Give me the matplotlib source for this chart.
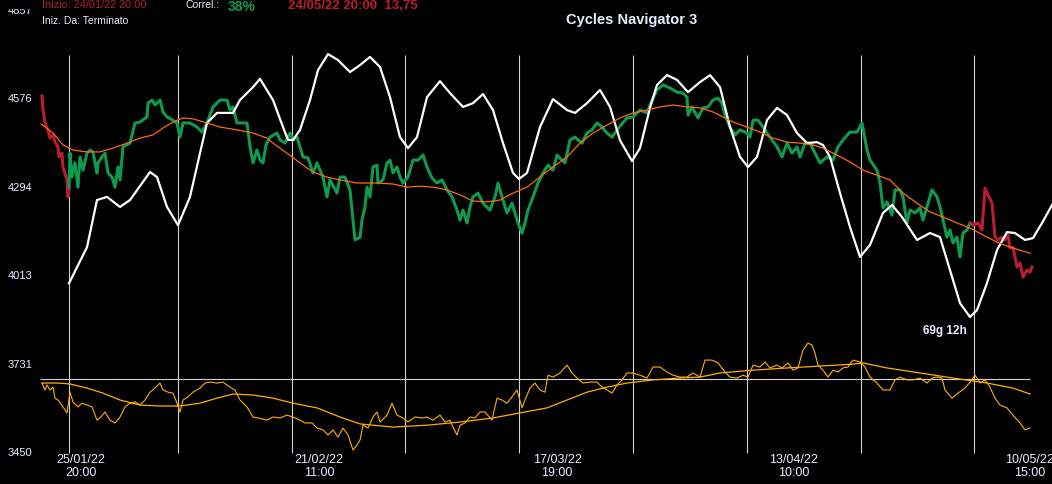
import numpy as np
import matplotlib
matplotlib.use('Agg')
import matplotlib.pyplot as plt
from matplotlib.patches import Rectangle

plt.rcParams['font.family'] = ['Liberation Sans', 'DejaVu Sans']

# price (close), by bar position
price_bar = [42, 43, 45, 48, 50, 53, 55, 58, 59, 62, 63, 67, 68, 69, 70, 72, 75, 78, 80, 83, 87, 90, 93, 97, 98,
             102, 105, 108, 112, 115, 118, 120, 123, 130, 135, 140, 147, 148, 152, 155, 160, 163, 167, 173, 177,
             180, 183, 190, 197, 202, 207, 213, 220, 227, 230, 233, 237, 240, 247, 250, 253, 257, 260, 263, 266,
             270, 277, 280, 285, 290, 293, 297, 300, 303, 308, 313, 317, 320, 323, 327, 330, 337, 340, 345, 350,
             353, 355, 360, 362, 365, 367, 370, 373, 377, 378, 383, 387, 390, 393, 397, 400, 403, 408, 413, 418,
             423, 427, 432, 437, 442, 447, 452, 457, 460, 463, 467, 470, 473, 478, 483, 490, 495, 498, 502, 507,
             512, 515, 518, 522, 525, 528, 533, 538, 543, 548, 553, 557, 562, 565, 570, 575, 578, 582, 587, 592,
             597, 602, 607, 612, 617, 620, 627, 633, 640, 647, 652, 657, 663, 670, 677, 683, 687, 688, 692, 698,
             703, 708, 713, 718, 722, 725, 730, 735, 740, 747, 750, 753, 758, 763, 767, 772, 777, 782, 787, 792,
             797, 800, 805, 810, 815, 820, 827, 833, 838, 843, 850, 857, 862, 867, 870, 877, 880, 883, 887, 892,
             895, 900, 903, 907, 910, 915, 920, 923, 928, 932, 937, 940, 943, 947, 950, 953, 957, 960, 963, 967,
             970, 973, 978, 982, 985, 988, 992, 995, 998, 1002, 1005, 1008, 1010, 1013, 1017, 1020, 1023, 1027,
             1030, 1032]
price = [4586, 4541, 4500, 4478, 4452, 4462, 4439, 4424, 4392, 4404, 4360, 4319, 4265, 4296, 4404, 4328, 4373,
         4296, 4392, 4350, 4404, 4414, 4408, 4341, 4373, 4392, 4404, 4341, 4328, 4296, 4360, 4319, 4424, 4436,
         4500, 4503, 4519, 4563, 4573, 4557, 4573, 4535, 4519, 4509, 4500, 4455, 4500, 4500, 4487, 4471, 4500,
         4551, 4573, 4573, 4541, 4551, 4500, 4500, 4500, 4424, 4373, 4414, 4382, 4373, 4430, 4455, 4468, 4446,
         4436, 4468, 4446, 4455, 4424, 4392, 4389, 4341, 4373, 4350, 4328, 4265, 4319, 4277, 4328, 4328, 4287,
         4191, 4128, 4137, 4191, 4233, 4296, 4265, 4360, 4366, 4309, 4319, 4373, 4382, 4341, 4360, 4328, 4309,
         4328, 4382, 4382, 4398, 4360, 4325, 4309, 4319, 4287, 4265, 4223, 4191, 4223, 4182, 4233, 4265, 4277,
         4245, 4223, 4265, 4309, 4265, 4214, 4245, 4214, 4182, 4150, 4182, 4223, 4265, 4309, 4341, 4366, 4350,
         4398, 4382, 4373, 4446, 4455, 4446, 4436, 4468, 4478, 4500, 4487, 4468, 4455, 4478, 4490, 4516, 4519,
         4541, 4532, 4573, 4605, 4621, 4611, 4598, 4595, 4582, 4525, 4551, 4516, 4548, 4551, 4573, 4579, 4563,
         4525, 4487, 4462, 4478, 4468, 4455, 4509, 4509, 4487, 4468, 4446, 4424, 4392, 4436, 4404, 4424, 4392,
         4436, 4436, 4404, 4373, 4392, 4382, 4424, 4446, 4471, 4471, 4500, 4414, 4382, 4350, 4309, 4230, 4249,
         4207, 4287, 4287, 4265, 4182, 4223, 4214, 4230, 4191, 4245, 4287, 4265, 4233, 4191, 4137, 4160, 4118,
         4137, 4074, 4150, 4160, 4182, 4175, 4182, 4160, 4293, 4271, 4245, 4137, 4128, 4137, 4128, 4144, 4102,
         4105, 4042, 4055, 4010, 4032, 4026, 4042]

# moving average of price
ma_bar = [41, 53, 63, 73, 87, 100, 113, 127, 140, 153, 163, 173, 183, 193, 207, 220, 237, 253, 267, 273, 287,
          300, 313, 327, 340, 357, 377, 393, 407, 420, 433, 447, 460, 473, 487, 500, 513, 527, 540, 553, 567,
          580, 593, 607, 620, 633, 647, 660, 673, 687, 700, 713, 723, 733, 747, 760, 773, 787, 800, 813, 823,
          837, 850, 863, 877, 890, 903, 917, 930, 943, 957, 970, 983, 997, 1010, 1030]
ma = [4497, 4468, 4430, 4414, 4408, 4408, 4420, 4436, 4452, 4462, 4484, 4503, 4516, 4513, 4500, 4487, 4478,
      4468, 4452, 4436, 4404, 4373, 4344, 4328, 4319, 4309, 4309, 4306, 4296, 4299, 4296, 4287, 4271, 4252,
      4249, 4255, 4277, 4296, 4328, 4360, 4392, 4436, 4468, 4493, 4516, 4532, 4541, 4551, 4557, 4551, 4548,
      4535, 4519, 4503, 4487, 4471, 4452, 4439, 4436, 4430, 4420, 4398, 4376, 4350, 4334, 4319, 4277, 4245,
      4217, 4201, 4182, 4166, 4144, 4121, 4105, 4086]

# cycle composite (white)
cycle_bar = [69, 87, 97, 107, 120, 130, 150, 157, 167, 178, 190, 200, 207, 217, 227, 233, 240, 253, 260, 273,
             283, 288, 293, 300, 310, 318, 328, 338, 350, 360, 370, 380, 390, 400, 408, 417, 427, 440, 450, 463,
             473, 483, 493, 503, 513, 519, 527, 540, 553, 567, 575, 587, 600, 610, 620, 632, 640, 650, 657, 667,
             677, 688, 700, 710, 720, 730, 740, 748, 757, 767, 777, 787, 797, 807, 817, 823, 830, 840, 850, 860,
             870, 883, 892, 902, 917, 930, 940, 950, 960, 970, 977, 987, 997, 1007, 1015, 1025, 1033, 1042, 1052]
cycle = [3990, 4105, 4255, 4265, 4233, 4255, 4344, 4328, 4233, 4175, 4265, 4404, 4500, 4532, 4532, 4532, 4573,
         4614, 4640, 4573, 4487, 4446, 4446, 4478, 4573, 4668, 4719, 4700, 4662, 4684, 4710, 4678, 4582, 4455,
         4420, 4455, 4582, 4633, 4595, 4551, 4563, 4592, 4541, 4436, 4341, 4322, 4341, 4487, 4576, 4541, 4532,
         4563, 4605, 4551, 4445, 4379, 4420, 4548, 4621, 4652, 4637, 4598, 4630, 4652, 4614, 4487, 4392, 4360,
         4392, 4509, 4548, 4525, 4468, 4436, 4439, 4430, 4392, 4277, 4169, 4074, 4112, 4214, 4239, 4201, 4128,
         4150, 4137, 4032, 3927, 3883, 3905, 3991, 4096, 4153, 4150, 4128, 4134, 4182, 4239]

# lower oscillator and its average
osc_bar = [42, 45, 47, 50, 53, 55, 58, 63, 67, 70, 73, 78, 82, 87, 92, 97, 100, 105, 110, 115, 120, 125, 130,
           135, 140, 145, 150, 155, 160, 163, 168, 173, 177, 180, 183, 188, 193, 200, 205, 210, 217, 223, 230,
           235, 240, 247, 253, 258, 267, 273, 280, 287, 293, 300, 305, 312, 317, 323, 328, 333, 338, 343, 348,
           353, 357, 360, 363, 368, 373, 377, 380, 387, 392, 397, 403, 408, 415, 422, 427, 433, 440, 445, 450,
           453, 457, 460, 465, 470, 475, 480, 485, 492, 497, 502, 507, 512, 517, 522, 525, 530, 535, 540, 545,
           548, 553, 560, 567, 572, 577, 583, 590, 597, 602, 607, 612, 617, 622, 627, 633, 640, 647, 653, 660,
           667, 673, 680, 687, 693, 700, 705, 712, 718, 725, 730, 737, 743, 748, 753, 760, 765, 770, 777, 782,
           788, 793, 798, 803, 808, 812, 815, 818, 823, 828, 833, 838, 843, 848, 853, 860, 865, 870, 877, 883,
           890, 895, 900, 907, 913, 920, 927, 932, 937, 942, 945, 952, 958, 965, 970, 975, 980, 985, 990, 995,
           1000, 1007, 1013, 1020, 1025, 1030]
osc = [3673, 3651, 3667, 3651, 3660, 3625, 3619, 3597, 3578, 3644, 3613, 3597, 3609, 3603, 3597, 3555, 3562,
       3581, 3555, 3546, 3565, 3597, 3609, 3613, 3603, 3619, 3644, 3657, 3673, 3651, 3644, 3641, 3609, 3581,
       3619, 3629, 3644, 3657, 3673, 3676, 3673, 3676, 3660, 3651, 3619, 3597, 3565, 3562, 3555, 3565, 3562,
       3571, 3565, 3555, 3546, 3546, 3530, 3524, 3508, 3524, 3501, 3530, 3508, 3460, 3476, 3492, 3539, 3530,
       3565, 3581, 3549, 3571, 3609, 3571, 3562, 3549, 3565, 3562, 3565, 3555, 3571, 3549, 3555, 3533, 3508,
       3539, 3546, 3565, 3562, 3581, 3581, 3555, 3625, 3619, 3609, 3629, 3651, 3594, 3619, 3657, 3673, 3651,
       3644, 3698, 3692, 3705, 3730, 3705, 3689, 3673, 3676, 3676, 3660, 3651, 3641, 3667, 3683, 3705, 3705,
       3698, 3689, 3724, 3724, 3708, 3698, 3692, 3692, 3705, 3692, 3746, 3746, 3737, 3708, 3692, 3689, 3698,
       3692, 3730, 3724, 3740, 3721, 3730, 3721, 3737, 3714, 3721, 3778, 3800, 3794, 3768, 3730, 3714, 3692,
       3714, 3708, 3721, 3724, 3746, 3740, 3724, 3692, 3673, 3651, 3651, 3683, 3692, 3683, 3683, 3689, 3673,
       3689, 3692, 3689, 3651, 3625, 3641, 3657, 3676, 3698, 3673, 3683, 3660, 3625, 3603, 3594, 3571, 3546,
       3524, 3530]
osc_ma_bar = [42, 58, 70, 87, 103, 120, 140, 160, 180, 200, 217, 233, 253, 273, 293, 317, 340, 360, 393, 427,
              460, 493, 520, 547, 567, 587, 607, 627, 653, 680, 700, 720, 753, 787, 820, 853, 863, 887, 920, 953,
              987, 1013, 1030]
osc_ma = [3673, 3673, 3670, 3657, 3641, 3619, 3603, 3600, 3600, 3609, 3625, 3638, 3635, 3625, 3609, 3594, 3565,
          3543, 3533, 3539, 3549, 3562, 3578, 3594, 3619, 3644, 3660, 3673, 3683, 3689, 3692, 3705, 3714, 3721,
          3727, 3733, 3737, 3721, 3705, 3689, 3673, 3657, 3638]
osc_level = 3686

cycle_marks = [69, 178, 292, 405, 519, 633, 747, 861, 974]
green_from, green_to = 69, 970
ytick_values = [4857, 4576, 4294, 4013, 3731, 3450]
xtick_bars = [81, 319, 557, 794, 1030]
xtick_labels = ['25/01/22\n20:00', '21/02/22\n11:00', '17/03/22\n19:00', '13/04/22\n10:00', '10/05/22\n15:00']

GREEN = '#0f9b4e'
RED = '#b81e30'
TXT = '#e6eeff'

fig = plt.figure(figsize=(10.52, 4.84), dpi=100, facecolor='black')
ax = fig.add_axes([0, 0, 1, 1])
ax.set_facecolor('black')
ax.set_xlim(0, 1052)
ax.set_ylim(3352, 4891)
ax.axis('off')

# cycle markers and oscillator reference level
ax.vlines(cycle_marks, 3450, 4716, color='#d2d2d2', lw=0.8, zorder=1)
ax.hlines(osc_level, osc_bar[0] - 2, osc_bar[-1], color='#d2d2d2', lw=0.8, zorder=1)

# oscillator
ax.plot(osc_ma_bar, osc_ma, color='#ffb000', lw=0.9, zorder=2)
ax.plot(osc_bar, osc, color='#ffb000', lw=0.8, zorder=3)

# price, red outside the analysed window
pb = np.array(price_bar)
pv = np.array(price)
inside = (pb >= green_from) & (pb <= green_to)
i0 = np.argmax(inside)
i1 = len(pb) - np.argmax(inside[::-1])
ax.plot(pb[:i0 + 1], pv[:i0 + 1], color=RED, lw=2.2, zorder=4)
ax.plot(pb[i0:i1], pv[i0:i1], color=GREEN, lw=2.2, zorder=4)
ax.plot(pb[i1 - 1:], pv[i1 - 1:], color=RED, lw=2.2, zorder=4)

ax.plot(cycle_bar, cycle, color='white', lw=1.6, zorder=5)
ax.plot(ma_bar, ma, color='#ff6a10', lw=0.9, zorder=6)

for v in ytick_values:
    ax.text(8, v, str(v), color=TXT, fontsize=8, ha='left', va='center')
for b, lab in zip(xtick_bars, xtick_labels):
    ax.text(b, 3447, lab, color=TXT, fontsize=9, ha='center', va='top', linespacing=1.15)

ax.text(945, 3838, '69g 12h', color=TXT, fontsize=8.5, fontweight='bold', ha='center', va='center')

# header
def px(x, y):
    return x / 1052, 1 - y / 484

fig.patches.append(Rectangle((0, 1 - 8 / 484), 40 / 1052, 8 / 484, transform=fig.transFigure,
                             color='black', zorder=10))
fig.text(*px(42, 5), 'Inizio: 24/01/22 20:00', color=RED, fontsize=7.9, va='center', zorder=11)
fig.text(*px(42, 21), 'Iniz. Da: Terminato', color=TXT, fontsize=7.5, va='center', zorder=11)
fig.text(*px(185, 5), 'Correl.:', color=TXT, fontsize=7.5, va='center', zorder=11)
fig.text(*px(228, 7), '38%', color=GREEN, fontsize=10, fontweight='bold', va='center', zorder=11)
fig.text(*px(288, 6), '24/05/22 20:00  13,75', color=RED, fontsize=9.5, fontweight='bold',
         va='center', zorder=11)
fig.text(*px(632, 20), 'Cycles Navigator 3', color=TXT, fontsize=10.5, fontweight='bold',
         ha='center', va='center', zorder=11)

fig.savefig('out.png', dpi=100, facecolor='black')
